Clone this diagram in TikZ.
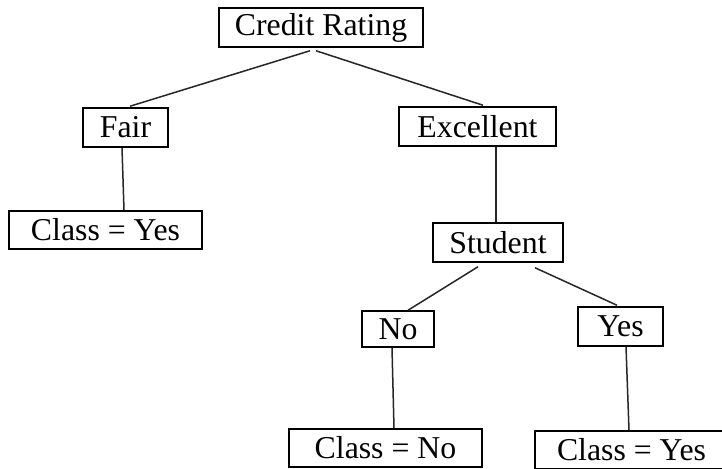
\documentclass[tikz,border=0pt]{standalone}
\usepackage{fontspec}
\setmainfont{Liberation Serif}
\usetikzlibrary{calc}
\tikzset{
  treebox/.style={draw=black, line width=1.5pt, rectangle, inner sep=0pt,
    minimum height=39pt, font=\fontsize{31.8}{36}\selectfont, text=black},
  branch/.style={draw=black!85, line width=1.5pt}
}
\begin{document}
\begin{tikzpicture}[x=1pt, y=-1pt]
  \useasboundingbox (0,0) rectangle (722,468);
  \fill[white] (0,0) rectangle (722,468);

  % decision nodes
  \node[treebox, minimum width=204pt] (cr)   at (321,27.5)  {Credit Rating};
  \node[treebox, minimum width=85pt]  (fair) at (125.5,127.5) {Fair};
  \node[treebox, minimum width=157pt] (exc)  at (477.5,126.5) {Excellent};
  \node[treebox, minimum width=130pt] (stu)  at (498,242.5) {Student};
  \node[treebox, minimum width=72pt, minimum height=36pt] (no) at (398,329) {No};
  \node[treebox, minimum width=85pt]  (yes)  at (620.5,326.5) {Yes};

  % leaves
  \node[treebox, minimum width=193pt, minimum height=38pt] (cyl) at (105.5,230) {Class = Yes};
  \node[treebox, minimum width=193pt, minimum height=38pt] (cnn) at (385.5,448) {Class = No};
  \node[treebox, minimum width=193pt, minimum height=38pt] (cyr) at (631.5,450) {Class = Yes};

  % branches
  \draw[branch] ($(cr.south)+(-11,3)$) -- ($(fair.north)+(4.5,-1)$);
  \draw[branch] ($(cr.south)+(-5,3)$) -- ($(exc.north)+(5.5,-1)$);
  \draw[branch] ($(fair.south)+(-3.5,0)$) -- ($(cyl.north)+(18.5,0)$);
  \draw[branch] ($(exc.south)+(18.5,0)$) -- ($(stu.north)+(-2,0)$);
  \draw[branch] ($(stu.south)+(-20,4)$) -- ($(no.north)+(10,0)$);
  \draw[branch] ($(stu.south)+(37,5)$) -- ($(yes.north)+(-3.5,-1)$);
  \draw[branch] ($(no.south)+(-6,0)$) -- ($(cnn.north)+(8.5,0)$);
  \draw[branch] ($(yes.south)+(5.5,0)$) -- ($(cyr.north)+(-2.5,0)$);
\end{tikzpicture}
\end{document}
